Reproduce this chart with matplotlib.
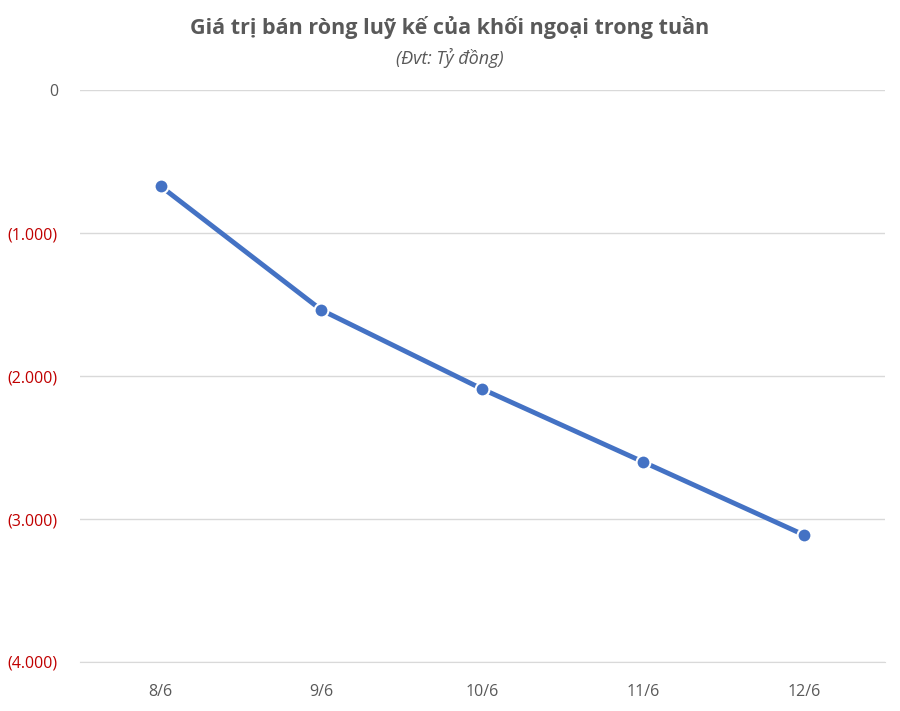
import matplotlib.pyplot as plt
from matplotlib.ticker import FuncFormatter

plt.rcParams['font.family'] = ['Open Sans', 'DejaVu Sans']

ngay = ["8/6", "9/6", "10/6", "11/6", "12/6"]
gia_tri = [-671, -1538, -2091, -2601, -3112]
muc_y = [0, -1000, -2000, -3000, -4000]


def dinh_dang(v, pos):
    if v == 0:
        return "0"
    return "(" + f"{abs(v):,.0f}".replace(",", ".") + ")"


fig = plt.figure(figsize=(9, 7.11), dpi=100)
ax = fig.add_axes([0.089, 0.069, 0.894, 0.804])

x = range(len(ngay))
ax.plot(x, gia_tri, color="#4472C4", lw=3.5, marker="o", ms=10,
        mfc="#4472C4", mec="white", mew=1.5, zorder=3)

ax.set_xlim(-0.5, 4.5)
ax.set_ylim(-4000, 0)
ax.set_xticks(list(x))
ax.set_xticklabels(ngay)
ax.set_yticks(muc_y)
ax.yaxis.set_major_formatter(FuncFormatter(dinh_dang))
ax.grid(axis="y", color="#D9D9D9", lw=1)
ax.set_axisbelow(True)
for s in ["top", "right", "left"]:
    ax.spines[s].set_visible(False)
ax.spines["bottom"].set_color("#D9D9D9")
ax.tick_params(length=0, labelsize=11.5, colors="#595959", pad=16)
for t in ax.get_yticklabels():
    if t.get_text() != "0":
        t.set_color("#C00000")

fig.text(0.5, 0.962, "Giá trị bán ròng luỹ kế của khối ngoại trong tuần",
         ha="center", va="center", fontsize=15.5, fontweight="bold", color="#595959")
fig.text(0.5, 0.918, "(Đvt: Tỷ đồng)", ha="center", va="center",
         fontsize=13, style="italic", color="#595959")

fig.savefig("out.png", dpi=100)
